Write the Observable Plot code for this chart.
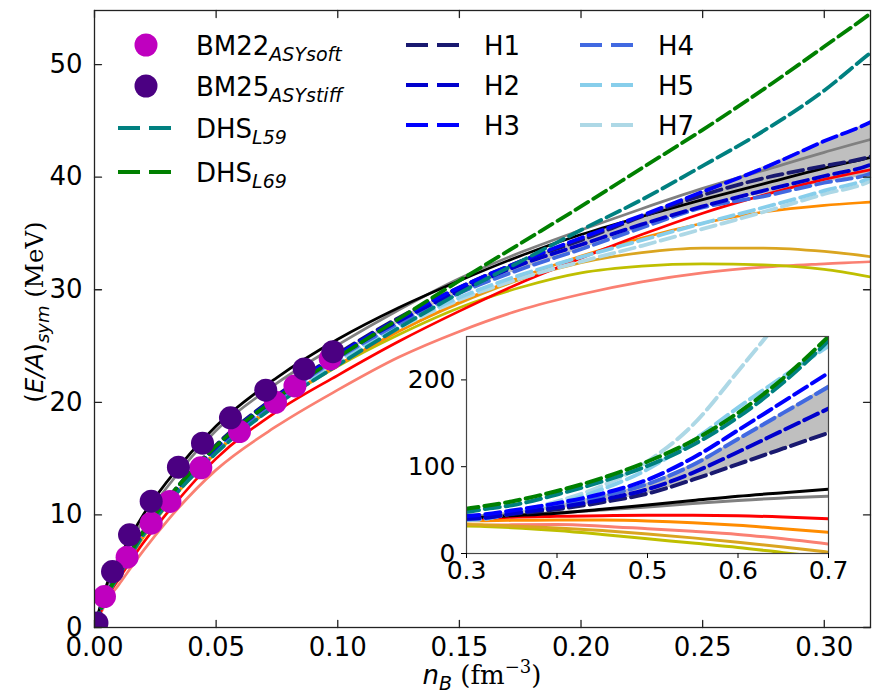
<!DOCTYPE html>
<html><head><meta charset="utf-8">
<script src="https://cdn.jsdelivr.net/npm/d3@7"></script>
<script src="https://cdn.jsdelivr.net/npm/@observablehq/plot@0.6"></script>
<style>
body{margin:0;background:#fff;}
#wrap{position:relative;width:872px;height:693px;overflow:hidden;}
#wrap svg{position:absolute;left:0;top:0;}
</style></head><body><div id="wrap"></div>
<script>
// ---------- data ----------
const nB = [0, 0.005, 0.01, 0.02, 0.03, 0.05, 0.075, 0.1, 0.125, 0.15, 0.175, 0.2, 0.225, 0.25, 0.275, 0.3, 0.32, 0.35, 0.4, 0.45, 0.5, 0.55, 0.6, 0.65, 0.7];
const blackCurve  = [0, 3.8, 6.1, 10.0, 13.0, 17.9, 22.2, 25.6, 28.4, 30.8, 33.0, 34.9, 36.5, 38.0, 39.4, 40.8, 41.8, 43.5, 46.5, 51, 56, 61, 66, 70, 74];
const grayCurve   = [0, 3.5, 5.7, 9.5, 12.5, 17.5, 21.7, 25.1, 28.2, 31.0, 33.3, 35.3, 37.2, 39.0, 40.6, 42.2, 43.4, 44.8, 47, 50, 53.5, 57.5, 61, 64, 66];
const redCurve    = [0, 2.6, 4.3, 7.5, 10.2, 15.0, 19.2, 22.4, 25.4, 28.1, 30.6, 32.8, 34.9, 36.8, 38.4, 39.8, 40.7, 41.8, 42.8, 43.6, 44, 44, 43.5, 42, 40];
const orangeCurve = [0, 2.8, 4.6, 8.1, 11.0, 15.6, 19.9, 23.3, 26.3, 28.9, 31.1, 33.0, 34.6, 35.9, 36.9, 37.5, 37.8, 38.2, 38.7, 38.5, 37.5, 35.5, 32.5, 28.5, 24.5];
const salmonCurve = [0, 2.3, 3.8, 6.8, 9.5, 14.0, 17.9, 21.1, 24.0, 26.3, 28.2, 29.6, 30.7, 31.5, 32.0, 32.3, 32.5, 33.0, 33.3, 31.5, 28.5, 25.5, 22, 17, 11];
const goldCurve   = [0, 2.8, 4.6, 8.1, 11.0, 15.6, 19.9, 23.3, 26.3, 28.8, 30.9, 32.4, 33.3, 33.7, 33.7, 33.4, 32.9, 31.8, 29.5, 26.5, 22.6, 18, 13, 7.5, 1.5];
const oliveCurve  = [0, 2.8, 4.6, 8.0, 10.9, 15.5, 19.8, 23.2, 26.0, 28.4, 30.2, 31.5, 32.1, 32.3, 32.2, 31.8, 31.1, 29.8, 26.5, 22, 17, 12, 7, 1, -5];
const dhsL69 = [0, 2.9, 4.8, 8.5, 11.4, 16.1, 20.4, 24.0, 27.4, 30.8, 34.1, 37.4, 40.8, 44.2, 47.8, 51.6, 54.7, 60, 72, 87, 106, 130, 162, 202, 250];
const dhsL59 = [0, 2.8, 4.6, 8.2, 11.0, 15.5, 19.8, 23.3, 26.6, 29.7, 32.5, 35.3, 38.0, 41.0, 44.1, 47.7, 51.2, 55.5, 68, 83, 101, 125, 157, 197, 245];
const H1 = [0, 2.9, 4.8, 8.5, 11.4, 16.2, 20.6, 24.3, 27.5, 30.2, 32.5, 34.4, 36.5, 38.4, 39.9, 41.0, 41.9, 45.5, 51, 59, 69, 85, 103, 121, 139];
const H2 = [0, 2.9, 4.8, 8.4, 11.3, 16.0, 20.4, 24.1, 27.2, 29.9, 32.2, 34.0, 35.8, 37.4, 38.8, 40.1, 41.2, 46, 53, 62, 74, 93, 117, 142, 167];
const H3 = [0, 2.9, 4.8, 8.4, 11.3, 16.1, 20.5, 24.2, 27.4, 30.2, 32.5, 34.6, 36.6, 38.7, 40.8, 43.2, 45.0, 49.5, 58, 69, 85, 110, 142, 175, 208];
const H4 = [0, 2.9, 4.7, 8.3, 11.2, 15.9, 20.2, 23.9, 27.0, 29.7, 31.8, 33.6, 35.5, 37.3, 38.3, 39.5, 40.4, 46, 55, 66, 80, 102, 132, 162, 192];
const H5 = [0, 2.8, 4.7, 8.3, 11.1, 15.8, 20.1, 23.7, 26.8, 29.3, 31.3, 32.9, 34.4, 35.9, 37.3, 38.8, 40.1, 46.5, 57, 74, 97, 130, 168, 204, 239];
const H7 = [0, 2.8, 4.7, 8.2, 11.1, 15.7, 20.0, 23.6, 26.6, 29.1, 31.0, 32.5, 33.9, 35.4, 36.9, 38.5, 39.8, 47, 60, 78, 106, 148, 210, 275, 350];

const bandX  = [0.1, 0.15, 0.2, 0.25, 0.3, 0.32, 0.35, 0.4, 0.45, 0.5, 0.55, 0.6, 0.65, 0.7];
const bandLo = [24.0, 29.7, 33.6, 37.3, 39.5, 40.4, 45.5, 51, 59, 69, 85, 103, 121, 139];
const bandHi = [24.3, 30.2, 34.6, 38.7, 43.2, 45.0, 48, 56, 67, 81, 103, 132, 162, 194];

const bm22X = [0.0041, 0.0134, 0.0233, 0.031, 0.0437, 0.0596, 0.0744, 0.0824, 0.0969];
const bm22Y = [2.75, 6.24, 9.26, 11.2, 14.18, 17.4, 20.0, 21.46, 23.86];
const bm25X = [0.001, 0.0074, 0.0144, 0.0233, 0.0345, 0.0444, 0.0559, 0.0704, 0.0862, 0.098];
const bm25Y = [0.4, 4.97, 8.23, 11.22, 14.24, 16.37, 18.62, 21.08, 22.97, 24.5];

const xTicksMain = [0, 0.05, 0.1, 0.15, 0.2, 0.25, 0.3];
const yTicksMain = [0, 10, 20, 30, 40, 50];
const xTicksInset = [0.3, 0.4, 0.5, 0.6, 0.7];
const yTicksInset = [0, 100, 200];

// ---------- styles ----------
const solidSeries = [
  {v: salmonCurve, c: "#fa8072"},
  {v: oliveCurve, c: "#bfbf00"},
  {v: goldCurve, c: "#daa520"},
  {v: orangeCurve, c: "#ff8c00"},
  {v: redCurve, c: "#ff0000"},
  {v: grayCurve, c: "#808080"},
  {v: blackCurve, c: "#000000"}
];
const dashedSeries = [
  {v: H7, c: "#add8e6"},
  {v: H5, c: "#87ceeb"},
  {v: H4, c: "#4169e1"},
  {v: H1, c: "#191970"},
  {v: H2, c: "#0000cd"},
  {v: H3, c: "#0000ff"},
  {v: dhsL59, c: "#008080"},
  {v: dhsL69, c: "#008000"}
];
const rowsOf = (vals) => nB.map((x, i) => ({nB: x, E: vals[i]}));
const bandRows = bandX.map((x, i) => ({nB: x, lo: bandLo[i], hi: bandHi[i]}));
const bm22 = bm22X.map((x, i) => ({nB: x, E: bm22Y[i]}));
const bm25 = bm25X.map((x, i) => ({nB: x, E: bm25Y[i]}));

const tickShape = {draw(ctx, l) { ctx.moveTo(0, 0); ctx.lineTo(0, -l); }};
const tk = {length: 7, anchor: "start", shape: tickShape, stroke: "#222", strokeWidth: 1.3};

function curveMarks(solidW, dashW, dash) {
  const m = [Plot.areaY(bandRows, {x: "nB", y1: "lo", y2: "hi", fill: "#bfbfbf", curve: "monotone-x", clip: true})];
  for (const s of solidSeries) m.push(Plot.line(rowsOf(s.v), {x: "nB", y: "E", stroke: s.c, strokeWidth: solidW, curve: "monotone-x", clip: true}));
  for (const s of dashedSeries) m.push(Plot.line(rowsOf(s.v), {x: "nB", y: "E", stroke: s.c, strokeWidth: dashW, strokeDasharray: dash, curve: "monotone-x", clip: true}));
  return m;
}

// ---------- main plot ----------
const main = Plot.plot({
  width: 872, height: 693,
  marginLeft: 94, marginRight: 2, marginTop: 10, marginBottom: 66,
  x: {domain: [0, 0.319]},
  y: {domain: [0, 54.8]},
  style: {fontFamily: "DejaVu Sans", fontSize: "26px", background: "white", color: "#000"},
  marks: [
    ...curveMarks(2.7, 3.8, "15,6"),
    Plot.dot(bm22, {x: "nB", y: "E", r: 11.5, fill: "#bf00bf", clip: true}),
    Plot.dot(bm25, {x: "nB", y: "E", r: 11.5, fill: "#4b0082", clip: true}),
    Plot.frame({stroke: "#222", strokeWidth: 1.3}),
    Plot.vector(xTicksMain, {x: d => d, frameAnchor: "bottom", rotate: 0, ...tk}),
    Plot.vector(xTicksMain, {x: d => d, frameAnchor: "top", rotate: 180, ...tk}),
    Plot.vector(yTicksMain, {y: d => d, frameAnchor: "left", rotate: 90, ...tk}),
    Plot.vector(yTicksMain, {y: d => d, frameAnchor: "right", rotate: -90, ...tk}),
    Plot.axisX({ticks: xTicksMain, tickSize: 0, tickPadding: 10, tickFormat: d => d.toFixed(2), label: null}),
    Plot.axisY({ticks: yTicksMain, tickSize: 0, tickPadding: 12, tickFormat: d => String(d), label: null})
  ]
});

// ---------- inset ----------
const inset = Plot.plot({
  width: 872, height: 693,
  marginLeft: 466, marginRight: 44, marginTop: 336, marginBottom: 140,
  x: {domain: [0.3, 0.7]},
  y: {domain: [0, 250]},
  style: {fontFamily: "DejaVu Sans", fontSize: "25px", background: "transparent", color: "#000"},
  marks: [
    Plot.frame({fill: "white"}),
    ...curveMarks(3, 4, "15,6"),
    Plot.frame({stroke: "#444", strokeWidth: 1.2}),
    Plot.axisX({ticks: xTicksInset, tickSize: 5, tickPadding: 3, tickFormat: d => d.toFixed(1), label: null}),
    Plot.axisY({ticks: yTicksInset, tickSize: 5, tickPadding: 6, tickFormat: d => String(d), label: null})
  ]
});

const wrap = document.getElementById("wrap");
wrap.appendChild(main);
wrap.appendChild(inset);

// ---------- axis labels & legend ----------
const svg = d3.select(main);
const serif = "DejaVu Serif";
const xl = svg.append("text").attr("x", 482).attr("y", 684).attr("text-anchor", "middle").attr("font-size", 26).attr("fill", "#000");
xl.append("tspan").attr("font-style", "italic").text("n");
xl.append("tspan").attr("font-style", "italic").attr("font-size", 19).attr("dy", 6).text("B");
xl.append("tspan").attr("font-family", serif).attr("dy", -6).text(" (fm");
xl.append("tspan").attr("font-family", serif).attr("font-size", 18).attr("dy", -11).text("\u22123");
xl.append("tspan").attr("font-family", serif).attr("dy", 11).text(")");

const yl = svg.append("text").attr("transform", "translate(43,312) rotate(-90)").attr("text-anchor", "middle").attr("font-size", 24.5).attr("fill", "#000");
yl.append("tspan").text("(");
yl.append("tspan").attr("font-style", "italic").text("E/A");
yl.append("tspan").text(")");
yl.append("tspan").attr("font-style", "italic").attr("font-size", 18).attr("dy", 6).text("sym");
yl.append("tspan").attr("font-family", serif).attr("dy", -6).text(" (MeV)");

const leg = svg.append("g").attr("font-size", 26).attr("fill", "#000").attr("text-anchor", "start");
function legText(x, y, t, sub) {
  const e = leg.append("text").attr("x", x).attr("y", y);
  e.append("tspan").text(t);
  if (sub) e.append("tspan").attr("font-size", 19).attr("font-style", "italic").attr("dy", 6).text(sub);
}
function legLine(x1, y, color) {
  leg.append("line").attr("x1", x1).attr("x2", x1 + 53).attr("y1", y).attr("y2", y)
    .attr("stroke", color).attr("stroke-width", 4).attr("stroke-dasharray", "22,9");
}
leg.append("circle").attr("cx", 146).attr("cy", 45).attr("r", 11.5).attr("fill", "#bf00bf");
legText(196, 55, "BM22", "ASYsoft");
leg.append("circle").attr("cx", 146).attr("cy", 86).attr("r", 11.5).attr("fill", "#4b0082");
legText(196, 96, "BM25", "ASYstiff");
legLine(118, 128, "#008080"); legText(196, 138, "DHS", "L59");
legLine(118, 172, "#008000"); legText(196, 182, "DHS", "L69");
legLine(406, 45, "#191970"); legText(484, 55, "H1");
legLine(406, 85, "#0000cd"); legText(484, 95, "H2");
legLine(406, 125, "#0000ff"); legText(484, 135, "H3");
legLine(580, 45, "#4169e1"); legText(658, 55, "H4");
legLine(580, 85, "#87ceeb"); legText(658, 95, "H5");
legLine(580, 125, "#add8e6"); legText(658, 135, "H7");
</script></body></html>
